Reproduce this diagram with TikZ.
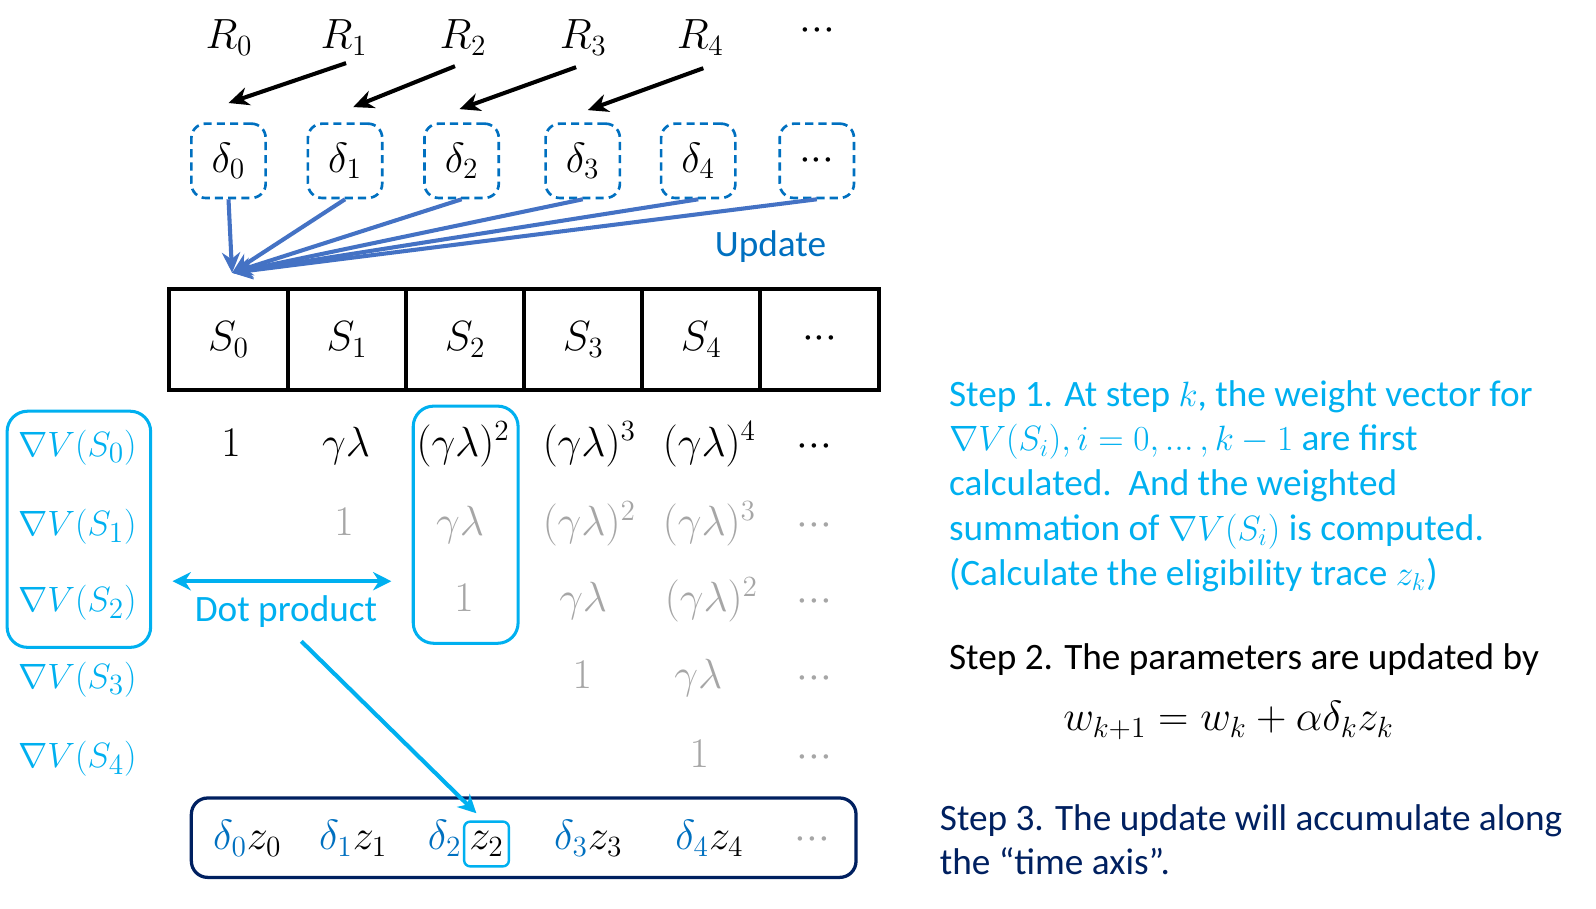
\documentclass[tikz,border=0pt]{standalone}
\usepackage[no-math]{fontspec}
\setmainfont{Carlito}
\usepackage{amsmath}
\usetikzlibrary{arrows.meta}
\definecolor{dblue}{HTML}{0070C0}
\definecolor{sblue}{HTML}{4472C4}
\definecolor{cyanb}{HTML}{00B0F0}
\definecolor{navy}{HTML}{002060}
\definecolor{gr}{HTML}{A6A6A6}
\newcommand\tdots{{\cdot}{\cdot}{\cdot}}
\begin{document}
\begin{tikzpicture}[x=0.5pt,y=-0.5pt,
  mth/.style={font=\fontsize{20.5}{24}\selectfont, inner sep=1pt},
  blk/.style={line width=2pt, -{Stealth[length=10pt,width=9pt]}},
  dbox/.style={mth, draw=dblue, line width=1.3pt, dash pattern=on 4pt off 2.5pt, rounded corners=7pt, minimum width=36.5pt, minimum height=36.5pt},
  upd/.style={draw=sblue, line width=2pt, -{Stealth[length=10pt,width=9pt]}},
  cell/.style={mth, draw, line width=2pt, minimum width=58pt, minimum height=49.5pt},
  ent/.style={mth, anchor=base},
  gent/.style={mth, anchor=base, text=gr},
  gcol/.style={anchor=base, inner sep=1pt, font=\fontsize{19}{22}\selectfont, text=cyanb},
  cybox/.style={draw=cyanb, line width=1.5pt, rounded corners=10pt},
  cyarr/.style={draw=cyanb, line width=2pt},
  txt/.style={font=\fontsize{18.3}{22}\selectfont, anchor=base west, inner sep=0},
  lbl/.style={font=\fontsize{18.3}{22}\selectfont, inner sep=1pt}
]
\useasboundingbox (0,0) rectangle (1568,893);

% Rewards
\node[ent] (r0) at (225,48) {$R_0$};
\node[ent] (r1) at (338,48) {$R_1$};
\node[ent] (r2) at (455,48) {$R_2$};
\node[ent] (r3) at (573,48) {$R_3$};
\node[ent] (r4) at (688,48) {$R_4$};
\node[ent] (rd) at (803,40) {$\tdots$};

% Deltas
\node[dbox] (d0) at (224.5,158) {$\delta_0$};
\node[dbox] (d1) at (339,158) {$\delta_1$};
\node[dbox] (d2) at (453.5,158) {$\delta_2$};
\node[dbox] (d3) at (572.5,158) {$\delta_3$};
\node[dbox] (d4) at (686,158) {$\delta_4$};
\node[dbox] (d5) at (802.5,158) {$\tdots$};

% Black arrows R_{i+1} -> delta_i
\coordinate (t1) at (340,62);
\coordinate (t2) at (447,65);
\coordinate (t3) at (566,66);
\coordinate (t4) at (691,67);
\draw[blk] (t1) -- ([yshift=9.5pt]d0.north);
\draw[blk] (t2) -- ([yshift=7.5pt,xshift=4pt]d1.north);
\draw[blk] (t3) -- ([yshift=6.5pt,xshift=-1pt]d2.north);
\draw[blk] (t4) -- ([yshift=6pt,xshift=2.5pt]d3.north);

% Update fan
\coordinate (hub) at (228,268);
\foreach \d in {d5,d4,d3,d2,d1,d0} {
  \draw[upd] (\d.south) -- (hub);
}
\node[lbl, text=dblue] (upd) at (757,242) {Update};

% State table
\node[cell, minimum width=58.5pt] (s0) at (224.5,333.5) {$S_0$};
\node[cell] (s1) at (341,333.5) {$S_1$};
\node[cell] (s2) at (457,333.5) {$S_2$};
\node[cell] (s3) at (573,333.5) {$S_3$};
\node[cell] (s4) at (689,333.5) {$S_4$};
\node[cell, minimum width=58.5pt] (s5) at (805.5,333.5) {$\tdots$};

% Gradient column
\node[gcol] (g0) at (76,448) {$\nabla V(S_0)$};
\node[gcol] (g1) at (76,526) {$\nabla V(S_1)$};
\node[gcol] (g2) at (76,601) {$\nabla V(S_2)$};
\node[gcol] (g3) at (76,676) {$\nabla V(S_3)$};
\node[gcol] (g4) at (76,754) {$\nabla V(S_4)$};
\node[cybox, minimum width=70.5pt, minimum height=116pt] (lbox) at (77.5,520) {};

% Weight rows
\node[ent] (a00) at (227,448) {$1$};
\node[ent] (a01) at (340,448) {$\gamma\lambda$};
\node[ent] (a02) at (455,448) {$(\gamma\lambda)^2$};
\node[ent] (a03) at (579,448) {$(\gamma\lambda)^3$};
\node[ent] (a04) at (697,448) {$(\gamma\lambda)^4$};
\node[ent] (a05) at (800,448) {$\tdots$};

\node[gent] (a11) at (338,526) {$1$};
\node[gent] (a12) at (452,526) {$\gamma\lambda$};
\node[gent] (a13) at (579,526) {$(\gamma\lambda)^2$};
\node[gent] (a14) at (697,526) {$(\gamma\lambda)^3$};
\node[gent] (a15) at (800,526) {$\tdots$};

\node[gent] (a22) at (456,601) {$1$};
\node[gent] (a23) at (573,601) {$\gamma\lambda$};
\node[gent] (a24) at (699,601) {$(\gamma\lambda)^2$};
\node[gent] (a25) at (800,601) {$\tdots$};

\node[gent] (a33) at (572,676) {$1$};
\node[gent] (a34) at (686,676) {$\gamma\lambda$};
\node[gent] (a35) at (800,676) {$\tdots$};

\node[gent] (a44) at (687,754) {$1$};
\node[gent] (a45) at (800,754) {$\tdots$};

\node[cybox, minimum width=51.5pt, minimum height=116.5pt] (mbox) at (457.5,515.5) {};

% Dot product
\draw[cyarr, {Stealth[length=9pt,width=9pt]}-{Stealth[length=9pt,width=9pt]}]
  ([shift={(10pt,-25.5pt)}]lbox.east) -- ([shift={(-10pt,-27.75pt)}]mbox.west);
\node[lbl, text=cyanb] (dot) at (281,601) {Dot product};

% Bottom accumulation box
\node[draw=navy, line width=1.6pt, rounded corners=8pt, minimum width=326.5pt, minimum height=39pt] (acc) at (514.5,823) {};
\node[ent] (b0) at (243,835) {$\textcolor{dblue}{\delta_0}z_0$};
\node[ent] (b1) at (347,835) {$\textcolor{dblue}{\delta_1}z_1$};
\node[mth, anchor=base, draw=cyanb, line width=1.2pt, rounded corners=3pt, minimum width=22pt, minimum height=22pt] (zb) at (478,835) {$z_2$};
\node[mth, anchor=base east, inner sep=0.5pt, text=dblue] (b2) at (zb.base west) {$\delta_2$};
\node[ent] (b3) at (578,835) {$\textcolor{dblue}{\delta_3}z_3$};
\node[ent] (b4) at (697,835) {$\textcolor{dblue}{\delta_4}z_4$};
\node[gent] (b5) at (798,835) {$\tdots$};

\coordinate (dps) at (296,630);
\draw[cyarr, -{Stealth[length=9pt,width=9pt]}] (dps) -- ([xshift=-5pt,yshift=3.5pt]zb.north);

% Right-hand text
\node[txt, text=cyanb] (l1) at (932,399) {Step 1. At step $k$, the weight vector for};
\node[txt, text=cyanb] (l2) at (932,443) {$\nabla V(S_i), i = 0, {.}{.}{.}\,, k-1$ are first};
\node[txt, text=cyanb] (l3) at (932,487) {calculated.\ \ And the weighted};
\node[txt, text=cyanb] (l4) at (932,531) {summation of $\nabla V(S_i)$ is computed.};
\node[txt, text=cyanb] (l5) at (932,575) {(Calculate the eligibility trace $z_k$)};
\node[txt] (l6) at (932,658) {Step 2. The parameters are updated by};
\node[mth, anchor=base] (eq) at (1207,718) {$w_{k+1} = w_k + \alpha\delta_k z_k$};
\node[txt, text=navy] (l7) at (923,816) {Step 3. The update will accumulate along};
\node[txt, text=navy] (l8) at (923,859) {the “time axis”.};
\end{tikzpicture}
\end{document}
